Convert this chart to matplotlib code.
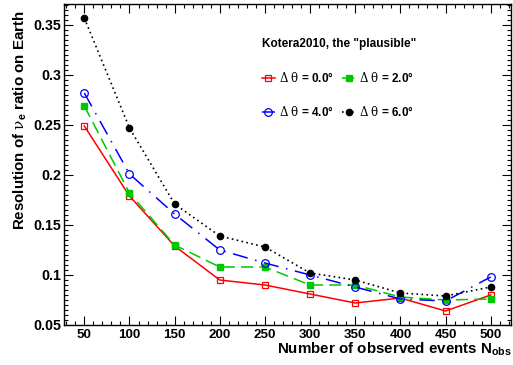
import matplotlib
matplotlib.use('Agg')
import matplotlib.pyplot as plt
from matplotlib.ticker import MultipleLocator

plt.rcParams['font.family'] = ['Liberation Sans', 'DejaVu Sans']
plt.rcParams['font.weight'] = 'bold'
plt.rcParams['mathtext.fontset'] = 'custom'
plt.rcParams['mathtext.rm'] = 'Liberation Sans:weight=bold'
plt.rcParams['mathtext.bf'] = 'Liberation Sans:weight=bold'
plt.rcParams['mathtext.it'] = 'Liberation Sans:weight=bold'
# greek symbols in a plain serif face
plt.rcParams['mathtext.sf'] = 'DejaVu Serif:weight=normal'

# number of observed events
n_obs = [50, 100, 150, 200, 250, 300, 350, 400, 450, 500]

# resolution of the nu_e ratio for each angular uncertainty
res_0deg = [0.249, 0.179, 0.129, 0.095, 0.090, 0.081, 0.072, 0.077, 0.064, 0.080]
res_2deg = [0.269, 0.182, 0.130, 0.108, 0.108, 0.090, 0.090, 0.078, 0.075, 0.076]
res_4deg = [0.282, 0.201, 0.161, 0.125, 0.112, 0.100, 0.088, 0.076, 0.074, 0.098]
res_6deg = [0.357, 0.247, 0.171, 0.139, 0.128, 0.102, 0.095, 0.082, 0.079, 0.088]

dtheta = ['0.0', '2.0', '4.0', '6.0']
labels = [r'$\mathsf{\Delta\ \theta}$ = %s°' % d for d in dtheta]

W, H = 513, 365
fig = plt.figure(figsize=(W / 100, H / 100), dpi=100)
ax = fig.add_axes([64 / W, 1 - 325 / H, (511 - 64) / W, (325 - 4) / H])

h0, = ax.plot(n_obs, res_0deg, color='#ff0000', lw=1.1, ls='-',
              marker='s', ms=5, mfc='none', mec='#ff0000', mew=0.9)
h2, = ax.plot(n_obs, res_2deg, color='#00c800', lw=1.1, ls=(0, (8, 4)),
              marker='s', ms=5, mfc='#00c800', mec='#00c800')
h4, = ax.plot(n_obs, res_4deg, color='#0000ff', lw=1.1, ls=(0, (10, 5, 1, 5)),
              marker='o', ms=5.5, mfc='none', mec='#0000ff', mew=0.9)
h6, = ax.plot(n_obs, res_6deg, color='black', lw=1.2, ls=(0, (1, 2)),
              marker='o', ms=4.5, mfc='black', mec='black')

ax.set_xlim(27.5, 522.5)
ax.set_ylim(0.05, 0.371)
ax.xaxis.set_major_locator(MultipleLocator(50))
ax.xaxis.set_minor_locator(MultipleLocator(10))
ax.yaxis.set_major_locator(MultipleLocator(0.05))
ax.yaxis.set_minor_locator(MultipleLocator(0.005))
ax.yaxis.set_major_formatter(plt.FuncFormatter(lambda v, p: ('%g' % round(v, 3))))

ax.tick_params(which='both', direction='in', top=True, right=True, width=0.8)
ax.tick_params(which='major', length=6.5)
ax.tick_params(which='minor', length=3.2)
ax.tick_params(axis='x', which='major', pad=3, labelsize=9.6)
ax.tick_params(axis='y', which='major', pad=2, labelsize=10.3)
for lab in ax.get_xticklabels() + ax.get_yticklabels():
    lab.set_fontweight('bold')
for sp in ax.spines.values():
    sp.set_linewidth(1.0)

fig.text(512 / W, 1 - 354 / H, r'Number of observed events N$_{\mathbf{obs}}$',
         ha='right', va='baseline', fontsize=10.9, fontweight='bold')
fig.text(25 / W, 1 - 10 / H, r'Resolution of $\mathsf{\nu}_{\mathbf{e}}$ ratio on Earth',
         rotation=90, rotation_mode='anchor', ha='right', va='baseline',
         fontsize=10.9, fontweight='bold')

# column-major fill: first column 0.0/4.0, second column 2.0/6.0
leg = ax.legend([h0, h4, h2, h6], [labels[0], labels[2], labels[1], labels[3]],
                ncol=2, frameon=False,
                loc='upper left', bbox_to_anchor=(262 / W, 1 - 38 / H),
                bbox_transform=fig.transFigure, borderpad=0, borderaxespad=0,
                handlelength=1.1, handletextpad=0.3, columnspacing=0.75,
                labelspacing=1.75, title='Kotera2010, the "plausible"',
                alignment='left', prop={'size': 8.5, 'weight': 'bold'},
                title_fontproperties={'size': 8.5, 'weight': 'bold'})

fig.savefig('out.png', dpi=100)
